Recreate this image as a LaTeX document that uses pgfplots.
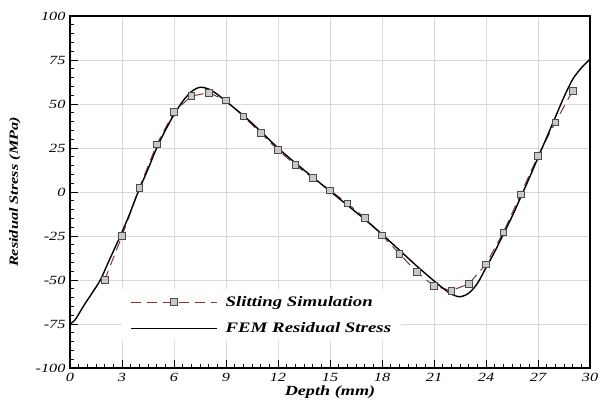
\documentclass[border=0pt]{standalone}
\usepackage{fontspec}
\setmainfont{Liberation Serif}[FakeStretch=1.3]
\usepackage{pgfplots}
\pgfplotsset{compat=1.18}
\definecolor{slitcol}{RGB}{125,55,55}
\definecolor{mkfill}{RGB}{200,200,200}
\begin{document}
\begin{tikzpicture}
\useasboundingbox (-70pt,-34pt) rectangle (530pt,368pt);
\begin{axis}[
  scale only axis,
  width=520pt, height=352pt,
  xmin=0, xmax=30, ymin=-100, ymax=100,
  xtick={0,3,...,30}, ytick={-100,-75,...,100},
  minor x tick num=5, minor y tick num=4,
  tick pos=left,
  tick align=inside,
  major tick length=8pt, minor tick length=4pt,
  every tick/.style={black, line width=0.8pt},
  grid=major,
  major grid style={gray!30, line width=0.8pt},
  axis line style={black, line width=1.3pt},
  /pgf/number format/assume math mode=true,
  ticklabel style={font=\fontsize{12.5}{14}\selectfont\itshape},
  xticklabel style={yshift=-2pt},
  yticklabel style={xshift=-1pt},
  xlabel={Depth (mm)},
  ylabel={Residual Stress (MPa)},
  xlabel style={font=\fontsize{14}{16}\selectfont\bfseries\itshape, at={(axis description cs:0.5,-0.068)}, anchor=center},
  ylabel style={font=\fontsize{12.5}{14}\selectfont\bfseries\itshape, at={(axis description cs:-0.106,0.5)}, anchor=center, rotate=0},
  legend style={at={(0.1,0.075)}, anchor=south west, draw=none, fill=white,
    font=\fontsize{14.5}{17}\selectfont\bfseries\itshape,
    row sep=11pt, inner xsep=8pt, inner ysep=5pt, column sep=6pt},
  legend cell align=left,
]
\addplot[slitcol, line width=1pt, dash pattern=on 10pt off 6pt,
  mark=square*, mark size=3.3pt,
  mark options={solid, fill=mkfill, draw=black!70, line width=0.6pt},
  legend image code/.code={\draw[mark repeat=2,mark phase=2] plot coordinates {(0pt,0pt) (43pt,0pt) (86pt,0pt)};}]
coordinates {
(2,-50) (3,-25) (4,2.3) (5,27) (6,45.5) (7,54.5) (8,56.4) (9,52)
(10,43) (11,33.5) (12,23.9) (13,15.3) (14,8) (15,1) (16,-6.4)
(17,-14.6) (18,-24.6) (19,-35) (20,-45.5) (21,-53.4) (22,-56)
(23,-52.3) (24,-41) (25,-23) (26,-1.3) (27,20.6) (28,39.6) (29,57.5)
};
\addlegendentry{Slitting Simulation}
\addplot[black, line width=1.4pt, smooth, tension=0.5,
  legend image code/.code={\draw plot coordinates {(0pt,0pt) (86pt,0pt)};}]
coordinates {
(0,-75) (0.3,-72.5) (0.8,-64.5) (1.3,-57) (1.75,-50) (2.3,-38) (2.9,-25)
(3.4,-13.5) (3.93,0) (4.5,13) (5,25) (5.5,35) (6,44) (6.5,51.5)
(7,57) (7.5,59.5) (8,58.5) (8.5,55.5) (9,51.5) (10,43.5) (11,34.5)
(12,25) (13,16.5) (14,8.5) (15,0.5) (16,-7.5) (17,-15.5) (18,-24)
(19,-33) (20,-42) (21,-50.5) (21.5,-54.5) (22,-58) (22.5,-59.5)
(23,-57.5) (23.5,-52) (24,-43) (24.5,-34) (25,-24) (25.5,-14) (26,-3)
(26.5,8) (27,19.5) (27.5,31) (28,42.5) (28.5,54) (29,64) (29.5,70.5) (30,75.5)
};
\addlegendentry{FEM Residual Stress}
\end{axis}
\end{tikzpicture}
\end{document}
